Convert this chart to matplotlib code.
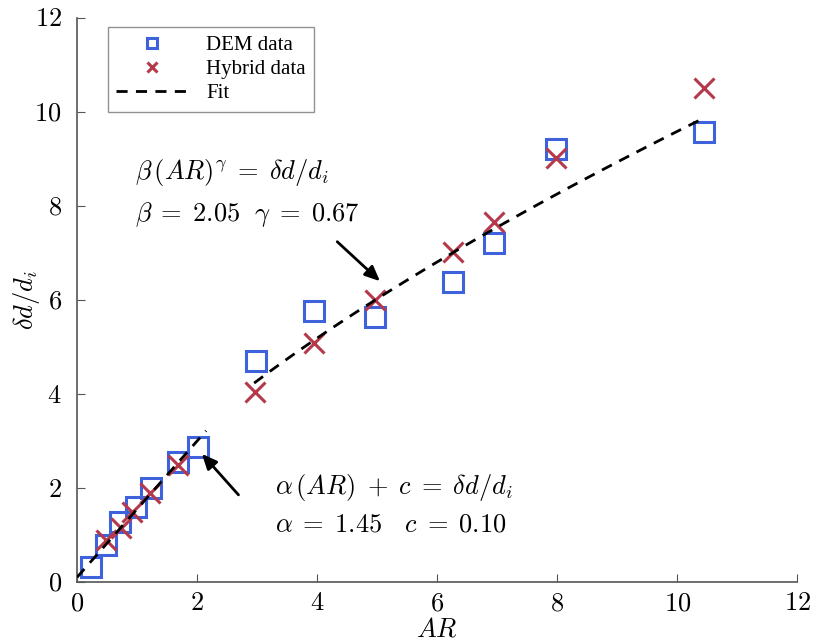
import numpy as np
import matplotlib
matplotlib.use('Agg')
import matplotlib.pyplot as plt

plt.rcParams['mathtext.fontset'] = 'cm'
plt.rcParams['font.family'] = 'serif'
plt.rcParams['font.serif'] = ['Liberation Serif', 'DejaVu Serif']

# DEM data (squares)
dem_ar = [0.23, 0.49, 0.72, 0.98, 1.24, 1.69, 2.01, 2.98, 3.95, 4.97, 6.27, 6.95, 7.97, 10.45]
dem_dd = [0.33, 0.79, 1.28, 1.59, 1.99, 2.56, 2.88, 4.70, 5.77, 5.64, 6.38, 7.21, 9.21, 9.57]

# Hybrid data (crosses)
hyb_ar = [0.48, 0.73, 0.92, 1.22, 1.69, 2.97, 3.95, 4.97, 6.27, 6.95, 7.97, 10.45]
hyb_dd = [0.89, 1.14, 1.50, 1.89, 2.49, 4.04, 5.09, 6.00, 7.02, 7.66, 9.02, 10.51]

# fit parameters
alpha, c = 1.45, 0.10
beta, gamma = 2.05, 0.67

blue = '#3d62db'
red = '#b5394a'

fig = plt.figure(figsize=(8.15, 6.41), dpi=100)
ax = fig.add_axes([0.0945, 0.092, 0.884, 0.88])

# fit lines
x1 = np.linspace(0, 2.15, 50)
x2 = np.linspace(2.95, 10.4, 100)
ax.plot(x1, alpha * x1 + c, '--', color='black', lw=2, dashes=(4, 3), label='Fit', zorder=3)
ax.plot(x2, beta * x2 ** gamma, '--', color='black', lw=2, dashes=(4, 3), zorder=3)

ax.plot(dem_ar, dem_dd, 's', ms=15, mfc='none', mec=blue, mew=2.2, ls='none',
        label='DEM data', zorder=2)
ax.plot(hyb_ar, hyb_dd, 'x', ms=15, mec=red, mew=2.2, ls='none',
        label='Hybrid data', zorder=2)

ax.set_xlim(0, 12)
ax.set_ylim(0, 12)
ax.set_xticks([0, 2, 4, 6, 8, 10, 12])
ax.set_yticks([0, 2, 4, 6, 8, 10, 12])
ax.set_xticklabels(['$%d$' % v for v in range(0, 13, 2)])
ax.set_yticklabels(['$%d$' % v for v in range(0, 13, 2)])
ax.tick_params(direction='in', length=6, labelsize=19, color='#555555')
ax.tick_params(axis='x', pad=8)
ax.tick_params(axis='y', pad=11)
ax.spines['top'].set_visible(False)
ax.spines['right'].set_visible(False)
for s in ['left', 'bottom']:
    ax.spines[s].set_color('#555555')
    ax.spines[s].set_linewidth(1.2)

ax.set_xlabel('$AR$', fontsize=19)
ax.set_ylabel('$\\delta d/d_i$', fontsize=19)
ax.xaxis.set_label_coords(0.5, -0.062)
ax.yaxis.set_label_coords(-0.048, 0.5)

h, l = ax.get_legend_handles_labels()
order = [1, 2, 0]
leg = ax.legend([h[i] for i in order], [l[i] for i in order], loc='upper left',
                bbox_to_anchor=(0.043, 0.984), fontsize=15, markerscale=0.45,
                fancybox=False, edgecolor='#777777', handlelength=3.4,
                handletextpad=0.9, borderpad=0.4, labelspacing=0.22,
                borderaxespad=0)
leg.get_frame().set_linewidth(1.0)

# annotations
ax.text(0.97, 8.72, '$\\beta\\,(AR)^{\\gamma}\\;=\\;\\delta d/d_i$', fontsize=19, va='center')
ax.text(0.97, 7.81, '$\\beta\\;=\\;2.05\\ \\ \\gamma\\;=\\;0.67$', fontsize=19, va='center')
ax.text(3.3, 2.02, '$\\alpha\\,(AR)\\;+\\;c\\;=\\;\\delta d/d_i$', fontsize=19, va='center')
ax.text(3.3, 1.21, '$\\alpha\\;=\\;1.45\\ \\ \\ c\\;=\\;0.10$', fontsize=19, va='center')

ax.annotate('', xy=(5.08, 6.36), xytext=(4.3, 7.28),
            arrowprops=dict(arrowstyle='-|>,head_length=0.9,head_width=0.4',
                            color='black', lw=2))
ax.annotate('', xy=(2.05, 2.77), xytext=(2.72, 1.81),
            arrowprops=dict(arrowstyle='-|>,head_length=0.9,head_width=0.4',
                            color='black', lw=2))

fig.savefig('out.png', dpi=100)
